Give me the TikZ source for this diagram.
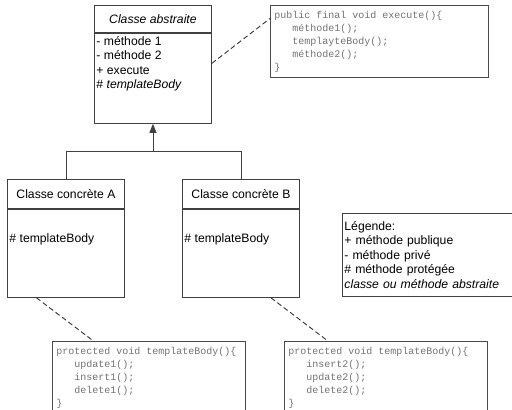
\documentclass[tikz,border=0pt]{standalone}
\usepackage{fontspec}
\setmainfont{Liberation Sans}
\setmonofont{Liberation Mono}
\usetikzlibrary{arrows.meta,calc}

% indentation of three characters inside the code notes
\newcommand{\codeind}{\hspace*{18pt}}
% full width spaces for the monospaced notes
\newcommand{\codesp}{\spaceskip=6pt\relax}

\begin{document}
\begin{tikzpicture}[x=1pt,y=-1pt,line width=0.9pt]
    % `classhead' and `classbody' are the two parts of a class box.
    % `members' is used for the texts inside a class body.
    % `codenote' is used for the notes holding method bodies.
    \tikzstyle{classhead} = [draw=black!75,minimum width=117pt,minimum height=27pt,anchor=north west,inner sep=0pt,font=\fontsize{12.2}{14.5}\selectfont]
    \tikzstyle{classbody} = [draw=black!75,minimum width=117pt,anchor=north west,inner sep=0pt]
    \tikzstyle{members} = [anchor=base west,align=left,inner sep=0pt,font=\fontsize{12.2}{14.5}\selectfont]
    \tikzstyle{codenote} = [draw=black!70,fill=white,anchor=north west,minimum height=72pt,inner xsep=4pt,inner ysep=0pt,align=left,text=black!55,font=\ttfamily\fontsize{10}{13}\selectfont]
    \tikzstyle{legendbox} = [draw=black!75,anchor=north west,minimum height=83pt,inner xsep=2pt,inner ysep=0pt,align=left,font=\fontsize{12.2}{14.5}\selectfont]
    \tikzstyle{notelink} = [draw=black!80,dash pattern=on 5pt off 3pt]
    %
    \clip (0,0) rectangle (512,410);
    \fill[white] (0,0) rectangle (512,410);
    %
    % abstract class (members node sits on the baseline of its last line)
    \node[classhead] (absHead) at (94,5) {\textit{Classe abstraite}};
    \node[classbody,minimum height=90pt] (absBody) at (absHead.south west) {};
    \node[members] (absOps) at (96,88.5) {- méthode 1\\- méthode 2\\+ execute\\\# \textit{templateBody}};
    %
    % concrete classes
    \node[classhead,minimum height=29pt] (conAHead) at (7,179) {Classe concrète A};
    \node[classbody,minimum height=88pt] (conABody) at (conAHead.south west) {};
    \node[members] (conAOps) at (9,242) {\# templateBody};
    \node[classhead,minimum height=29pt] (conBHead) at (182,179) {Classe concrète B};
    \node[classbody,minimum height=88pt] (conBBody) at (conBHead.south west) {};
    \node[members] (conBOps) at (184,242) {\# templateBody};
    %
    % legend
    \node[legendbox,text width=176pt] (legend) at (342,213) {Légende:\\+ méthode publique\\- méthode privé\\\# méthode protégée\\\textit{classe ou méthode abstraite}};
    %
    % code notes
    \node[codenote,text width=210pt] (execCode) at (270,5) {\codesp public final void execute()\{\\\codeind méthode1();\\\codeind templayteBody();\\\codeind méthode2();\\\}};
    \node[codenote,text width=185pt] (codeA) at (52,341) {\codesp protected void templateBody()\{\\\codeind update1();\\\codeind insert1();\\\codeind delete1();\\\}};
    \node[codenote,text width=195pt] (codeB) at (284,341) {\codesp protected void templateBody()\{\\\codeind insert2();\\\codeind update2();\\\codeind delete2();\\\}};
    %
    % inheritance
    \coordinate (joint) at ($(absBody.south)+(0,28)$);
    \draw[black!75] (conAHead.north) |- (joint) -| (conBHead.north);
    \draw[black!75,-{Triangle[length=9pt,width=7pt]}] (joint) -- (absBody.south);
    %
    % links to the notes
    \draw[notelink] ([yshift=15pt]absBody.east) -- ([yshift=23pt]execCode.west);
    \draw[notelink] ([xshift=-29.5pt]conABody.south) -- ([xshift=-55.5pt]codeA.north);
    \draw[notelink] ([xshift=30pt]conBBody.south) -- ([xshift=-58pt]codeB.north);
\end{tikzpicture}
\end{document}
